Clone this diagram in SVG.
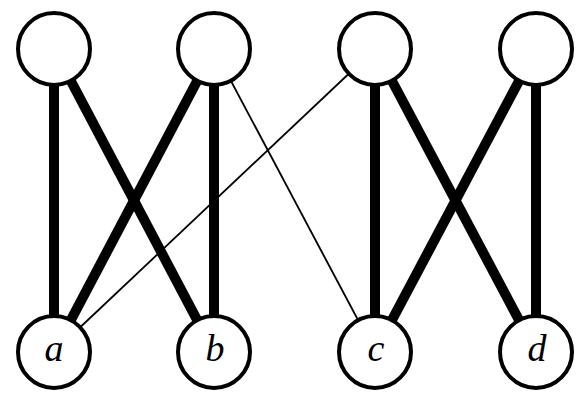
<svg xmlns="http://www.w3.org/2000/svg" width="583" height="402" viewBox="0 0 583 402">
<style>
.node{fill:#fff;stroke:#000;stroke-width:4}
.thick{stroke:#000;stroke-width:10;stroke-linecap:butt}
.thin{stroke:#000;stroke-width:1.8}
.lbl{font-family:"Liberation Serif","DejaVu Serif",serif;font-style:italic;font-size:38px;text-anchor:middle;fill:#000}
</style>
<rect width="583" height="402" fill="#fff"/>
<g id="edges">
<line class="thick" x1="54" y1="49" x2="54" y2="352"/>
<line class="thick" x1="54" y1="49" x2="214" y2="352"/>
<line class="thick" x1="214" y1="49" x2="54" y2="352"/>
<line class="thick" x1="214" y1="49" x2="214" y2="352"/>
<line class="thin" x1="214" y1="49" x2="375" y2="352"/>
<line class="thin" x1="375" y1="49" x2="54" y2="352"/>
<line class="thick" x1="375" y1="49" x2="375" y2="352"/>
<line class="thick" x1="375" y1="49" x2="536" y2="352"/>
<line class="thick" x1="536" y1="49" x2="375" y2="352"/>
<line class="thick" x1="536" y1="49" x2="536" y2="352"/>
</g>
<g id="t1"><circle class="node" cx="54" cy="49" r="36"/></g>
<g id="t2"><circle class="node" cx="214" cy="49" r="36"/></g>
<g id="t3"><circle class="node" cx="375" cy="49" r="36"/></g>
<g id="t4"><circle class="node" cx="536" cy="49" r="36"/></g>
<g id="a"><circle class="node" cx="54" cy="352" r="36"/><text class="lbl" x="54" y="361">a</text></g>
<g id="b"><circle class="node" cx="214" cy="352" r="36"/><text class="lbl" x="215" y="361">b</text></g>
<g id="c"><circle class="node" cx="375" cy="352" r="36"/><text class="lbl" x="376" y="361">c</text></g>
<g id="d"><circle class="node" cx="536" cy="352" r="36"/><text class="lbl" x="537" y="361">d</text></g>
</svg>
